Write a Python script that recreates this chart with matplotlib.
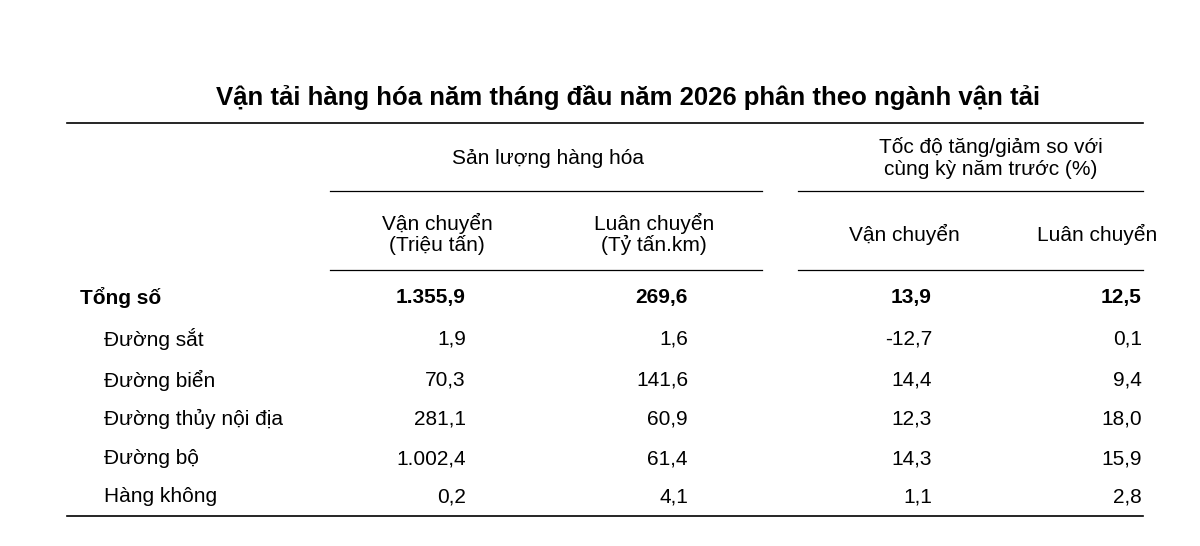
import matplotlib.pyplot as plt

plt.rcParams['font.family'] = ['Liberation Sans', 'DejaVu Sans']

title = "Vận tải hàng hóa năm tháng đầu năm 2026 phân theo ngành vận tải"
rows = ["Tổng số", "Đường sắt", "Đường biển", "Đường thủy nội địa", "Đường bộ", "Hàng không"]
van_chuyen = ["1.355,9", "1,9", "70,3", "281,1", "1.002,4", "0,2"]
luan_chuyen = ["269,6", "1,6", "141,6", "60,9", "61,4", "4,1"]
tang_vc = ["13,9", "-12,7", "14,4", "12,3", "14,3", "1,1"]
tang_lc = ["12,5", "0,1", "9,4", "18,0", "15,9", "2,8"]

W, H = 1200, 546
fig = plt.figure(figsize=(W / 100, H / 100), dpi=100)


def px(x, y):
    return x / W, 1 - y / H


def text(x, y, s, **kw):
    kw.setdefault('fontsize', 15)
    fig.text(*px(x, y), s, va='center', **kw)


def hline(x0, x1, y, lw=1.2):
    fig.add_artist(plt.Line2D([x0 / W, x1 / W], [1 - y / H] * 2, color='black', lw=lw))


text(628, 97, title, ha='center', fontsize=18.5, fontweight='bold')
hline(67, 1143, 123)
text(548, 158, "Sản lượng hàng hóa", ha='center')
text(991, 158, "Tốc độ tăng/giảm so với\ncùng kỳ năm trước (%)", ha='center', linespacing=1.15)
hline(330, 762, 191, 0.9)
hline(798, 1143, 191, 0.9)
text(437, 234, "Vận chuyển\n(Triệu tấn)", ha='center', linespacing=1.1)
text(654, 234, "Luân chuyển\n(Tỷ tấn.km)", ha='center', linespacing=1.1)
text(904, 234, "Vận chuyển", ha='center')
text(1097, 234, "Luân chuyển", ha='center')
hline(330, 762, 270, 0.9)
hline(798, 1143, 270, 0.9)

row_y = [297, 339, 380, 419, 459, 497]
col_x = [466, 688, 932, 1142]
for i, name in enumerate(rows):
    bold = 'bold' if i == 0 else 'normal'
    text(80 if i == 0 else 104, row_y[i], name, ha='left', fontweight=bold)
    for cx, col in zip(col_x, [van_chuyen, luan_chuyen, tang_vc, tang_lc]):
        text(cx, row_y[i], col[i], ha='right', fontweight=bold)

hline(67, 1143, 516)

fig.savefig('out.png', dpi=100)
